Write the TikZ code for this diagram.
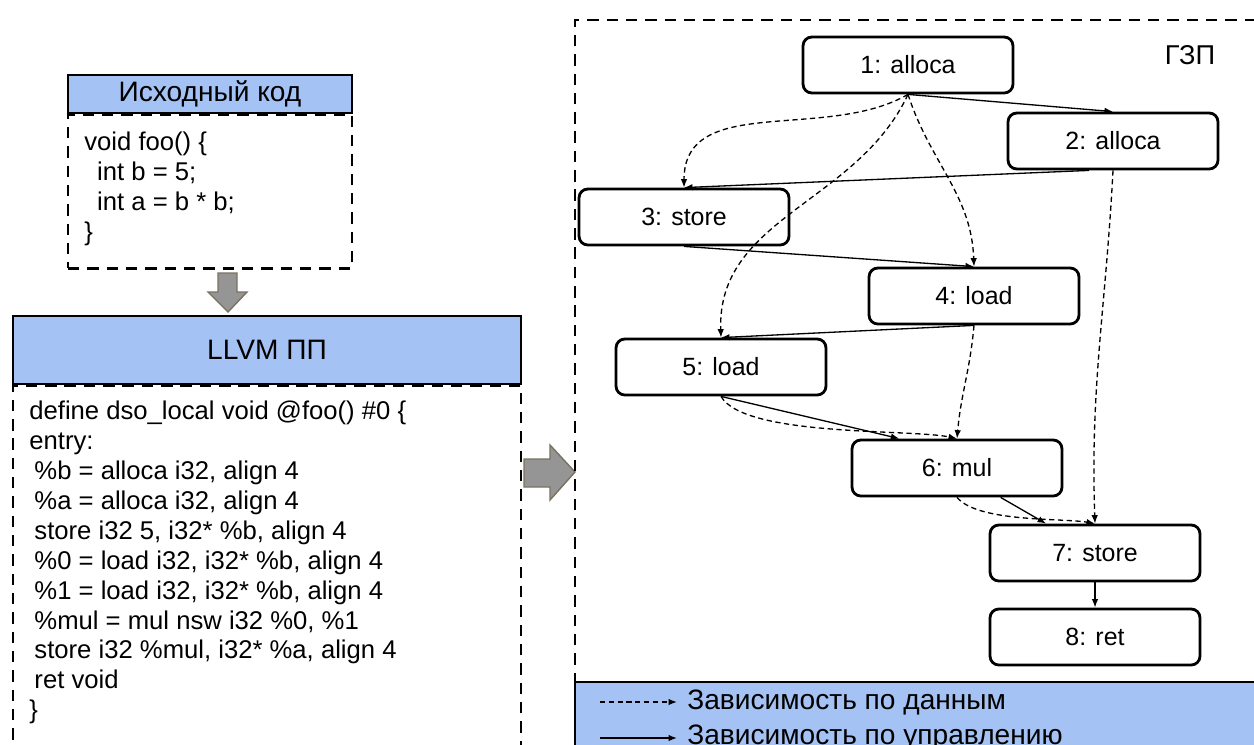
\documentclass[tikz,border=0pt]{standalone}
\usepackage{fontspec}
\setmainfont{Liberation Sans}
\usetikzlibrary{arrows.meta}
\definecolor{hdrblue}{HTML}{A4C2F4}
\definecolor{blockgray}{HTML}{959595}
\definecolor{blockedge}{HTML}{7A7260}
\begin{document}
\begin{tikzpicture}[x=0.02cm, y=-0.02cm, >={Latex[length=1.7mm,width=1.3mm]},
  hdr/.style={draw, line width=1.4pt, fill=hdrblue, inner sep=0pt, font=\fontsize{16}{19}\selectfont},
  dashframe/.style={draw, line width=1.5pt, dash pattern=on 6.5pt off 4.5pt},
  codetext/.style={anchor=north west, inner sep=0pt, align=left, font=\fontsize{14.6}{17}\selectfont},
  op/.style={draw, line width=1.6pt, rounded corners=5pt, minimum width=4.2cm, minimum height=1.12cm, font=\fontsize{14.2}{17}\selectfont},
  block/.style={fill=blockgray, draw=blockedge, line width=0.8pt},
  ctrl/.style={->, line width=0.75pt},
  dep/.style={->, line width=0.75pt, dash pattern=on 3pt off 2pt},
  legend/.style={anchor=west, inner xsep=5.7pt, inner ysep=0pt, font=\fontsize{16}{19}\selectfont}]
\useasboundingbox (0,0) rectangle (1254,744);
\clip (0,0) rectangle (1254,744);

\node[dashframe, anchor=north, minimum width=5.68cm, minimum height=3.08cm] (srcbody) at (210,113) {};
\node[hdr, minimum width=5.68cm, minimum height=0.76cm] (srchead) at (210,94) {Исходный код};
\node[codetext] (srccode) at (84,132) {void foo() \{ \\
\hspace*{0.5em}int b = 5; \\
\hspace*{0.5em}int a = b * b; \\
\}};

\draw[block] (218,273) -- (237,273) -- (237,292) -- (247,292) -- (228,312) -- (208,292) -- (218,292) -- cycle;

\node[dashframe, anchor=north, minimum width=10.16cm, minimum height=8cm] (irbody) at (267,384) {};
\node[hdr, minimum width=10.16cm, minimum height=1.36cm] (irhead) at (267,350) {LLVM ПП};
\node[codetext] (ircode) at (29,401) {define dso\_local void @foo() \#0 \{ \\
entry: \\
\hspace*{0.2em}\%b = alloca i32, align 4 \\
\hspace*{0.2em}\%a = alloca i32, align 4 \\
\hspace*{0.2em}store i32 5, i32* \%b, align 4 \\
\hspace*{0.2em}\%0 = load i32, i32* \%b, align 4 \\
\hspace*{0.2em}\%1 = load i32, i32* \%b, align 4 \\
\hspace*{0.2em}\%mul = mul nsw i32 \%0, \%1 \\
\hspace*{0.2em}store i32 \%mul, i32* \%a, align 4 \\
\hspace*{0.2em}ret void \\
\}};

\draw[block] (524,459) -- (550,459) -- (550,445) -- (575,472) -- (550,500) -- (550,487) -- (524,487) -- cycle;

\draw[dashframe] (575,800) -- (575,20) -- (1300,20);
\fill[hdrblue] (575,682) rectangle (1300,800);
\draw[line width=1.6pt] (575,800) -- (575,682) -- (1300,682);

\node[font=\fontsize{15.5}{18}\selectfont] (gzp) at (1190,55) {ГЗП};

\node[op] (n1) at (908,65) {1: alloca};
\node[op] (n2) at (1113,141) {2: alloca};
\node[op] (n3) at (684,217) {3: store};
\node[op] (n4) at (974,296) {4: load};
\node[op] (n5) at (721,367) {5: load};
\node[op] (n6) at (957,468) {6: mul};
\node[op] (n7) at (1095,553) {7: store};
\node[op] (n8) at (1095,637) {8: ret};

\draw[ctrl] (n1.south) -- (n2.north);
\draw[ctrl] (n2.231) -- (n3.north);
\draw[ctrl] (n3.south) -- (n4.north);
\draw[ctrl] (n4.south) -- (n5.north);
\draw[ctrl] (n5.south) -- (n6.153);
\draw[ctrl] (n6.326) -- (n7.149);
\draw[ctrl] (n7) -- (n8);

\draw[dep] (n1.south) to[out=-150,in=90] (n3.north);
\draw[dep] (n1.south) to[out=-115,in=92] (n5.north);
\draw[dep] (n1.south) to[out=-72,in=92] (n4.north);
\draw[dep] (n2.south) to[out=-93,in=92] (n7.north);
\draw[dep] (n4.south) to[out=-95,in=85] (n6.north);
\draw[dep] (n5.south) to[out=-60,in=168,looseness=0.5] (n6.north);
\draw[dep] (n6.south) to[out=-50,in=170,looseness=0.6] (n7.north);

\coordinate (ld1) at (600,702);
\coordinate (ld2) at (600,738);
\node[legend] (lg1) at (677,702) {Зависимость по данным};
\node[legend] (lg2) at (677,738) {Зависимость по управлению};
\draw[dep] (ld1) -- (lg1.west);
\draw[ctrl] (ld2) -- (lg2.west);
\end{tikzpicture}
\end{document}
